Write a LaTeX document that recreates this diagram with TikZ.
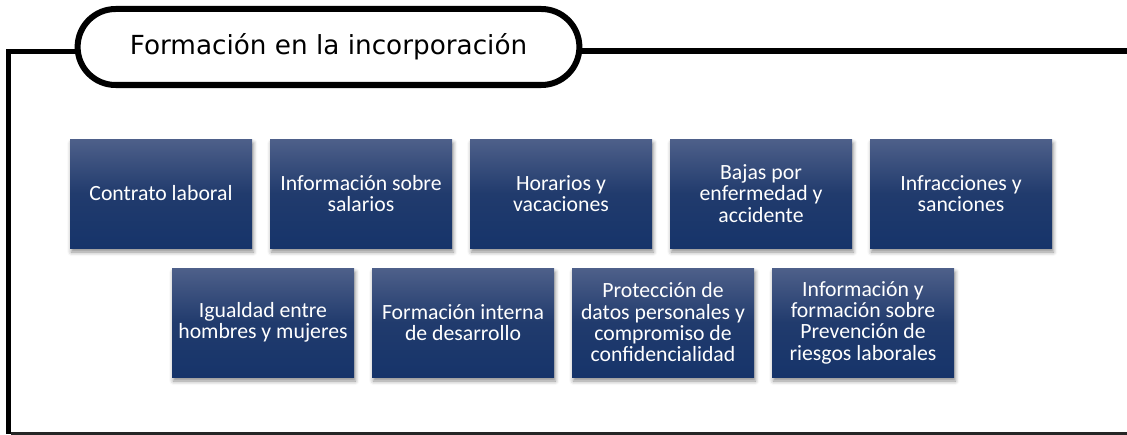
\documentclass[tikz,border=0pt]{standalone}
\usepackage{fontspec}
\newfontfamily\titlefont{DejaVu Sans}
\newfontfamily\boxfont{Carlito}
\usetikzlibrary{positioning,shapes.misc,shadows.blur}
\definecolor{boxtop}{RGB}{78,96,138}
\definecolor{boxmid}{RGB}{33,59,109}
\definecolor{boxbot}{RGB}{22,52,106}
\tikzset{
	item/.style={rectangle,minimum width=136.5pt,minimum height=81.75pt,inner sep=2pt,outer sep=0pt,
		top color=boxtop,bottom color=boxbot,middle color=boxmid,text=white,align=center,
		font=\boxfont\fontsize{16.3}{16}\selectfont,
		blur shadow={shadow xshift=1pt,shadow yshift=-3pt,shadow blur radius=3pt,shadow opacity=45}},
	heading/.style={rounded rectangle,draw,line width=4.5pt,fill=white,outer sep=0pt,
		minimum width=383pt,minimum height=57pt,font=\titlefont\fontsize{19.7}{24}\selectfont}
}
\begin{document}
\begin{tikzpicture}[x=0.75pt,y=-0.75pt,line join=miter]
		\useasboundingbox (0,0) rectangle (1127,435);
		\coordinate (tl) at (8.5,51.5);
		\coordinate (tr) at (1127,51.5);
		\coordinate (bl) at (8.5,433.5);
		\coordinate (br) at (1127,433.5);
		\node[heading] (title) at (328.5,47) {Formación en la incorporación};
		\draw[line width=4.5pt] (title.east |- tr) -- (tr);
		\draw[line width=4pt] (title.west |- tl) -- (tl) -- (bl);
		\draw[line width=2.5pt,black!85] ([xshift=2pt]bl) -- (br);
		\node[item] (contrato) at (161,193.5) {Contrato laboral};
		\node[item,right=13.5pt of contrato] (salarios) {Información sobre\\salarios};
		\node[item,right=13.5pt of salarios] (horarios) {Horarios y\\vacaciones};
		\node[item,right=13.5pt of horarios] (bajas) {Bajas por\\enfermedad y\\accidente};
		\node[item,right=13.5pt of bajas] (infracciones) {Infracciones y\\sanciones};
		\node[item] (igualdad) at (263,322.5) {Igualdad entre\\hombres y mujeres};
		\node[item,right=13.5pt of igualdad] (interna) {Formación interna\\de desarrollo};
		\node[item,right=13.5pt of interna] (datos) {Protección de\\datos personales y\\compromiso de\\confidencialidad};
		\node[item,right=13.5pt of datos] (riesgos) {Información y\\formación sobre\\Prevención de\\riesgos laborales};
\end{tikzpicture}
\end{document}
